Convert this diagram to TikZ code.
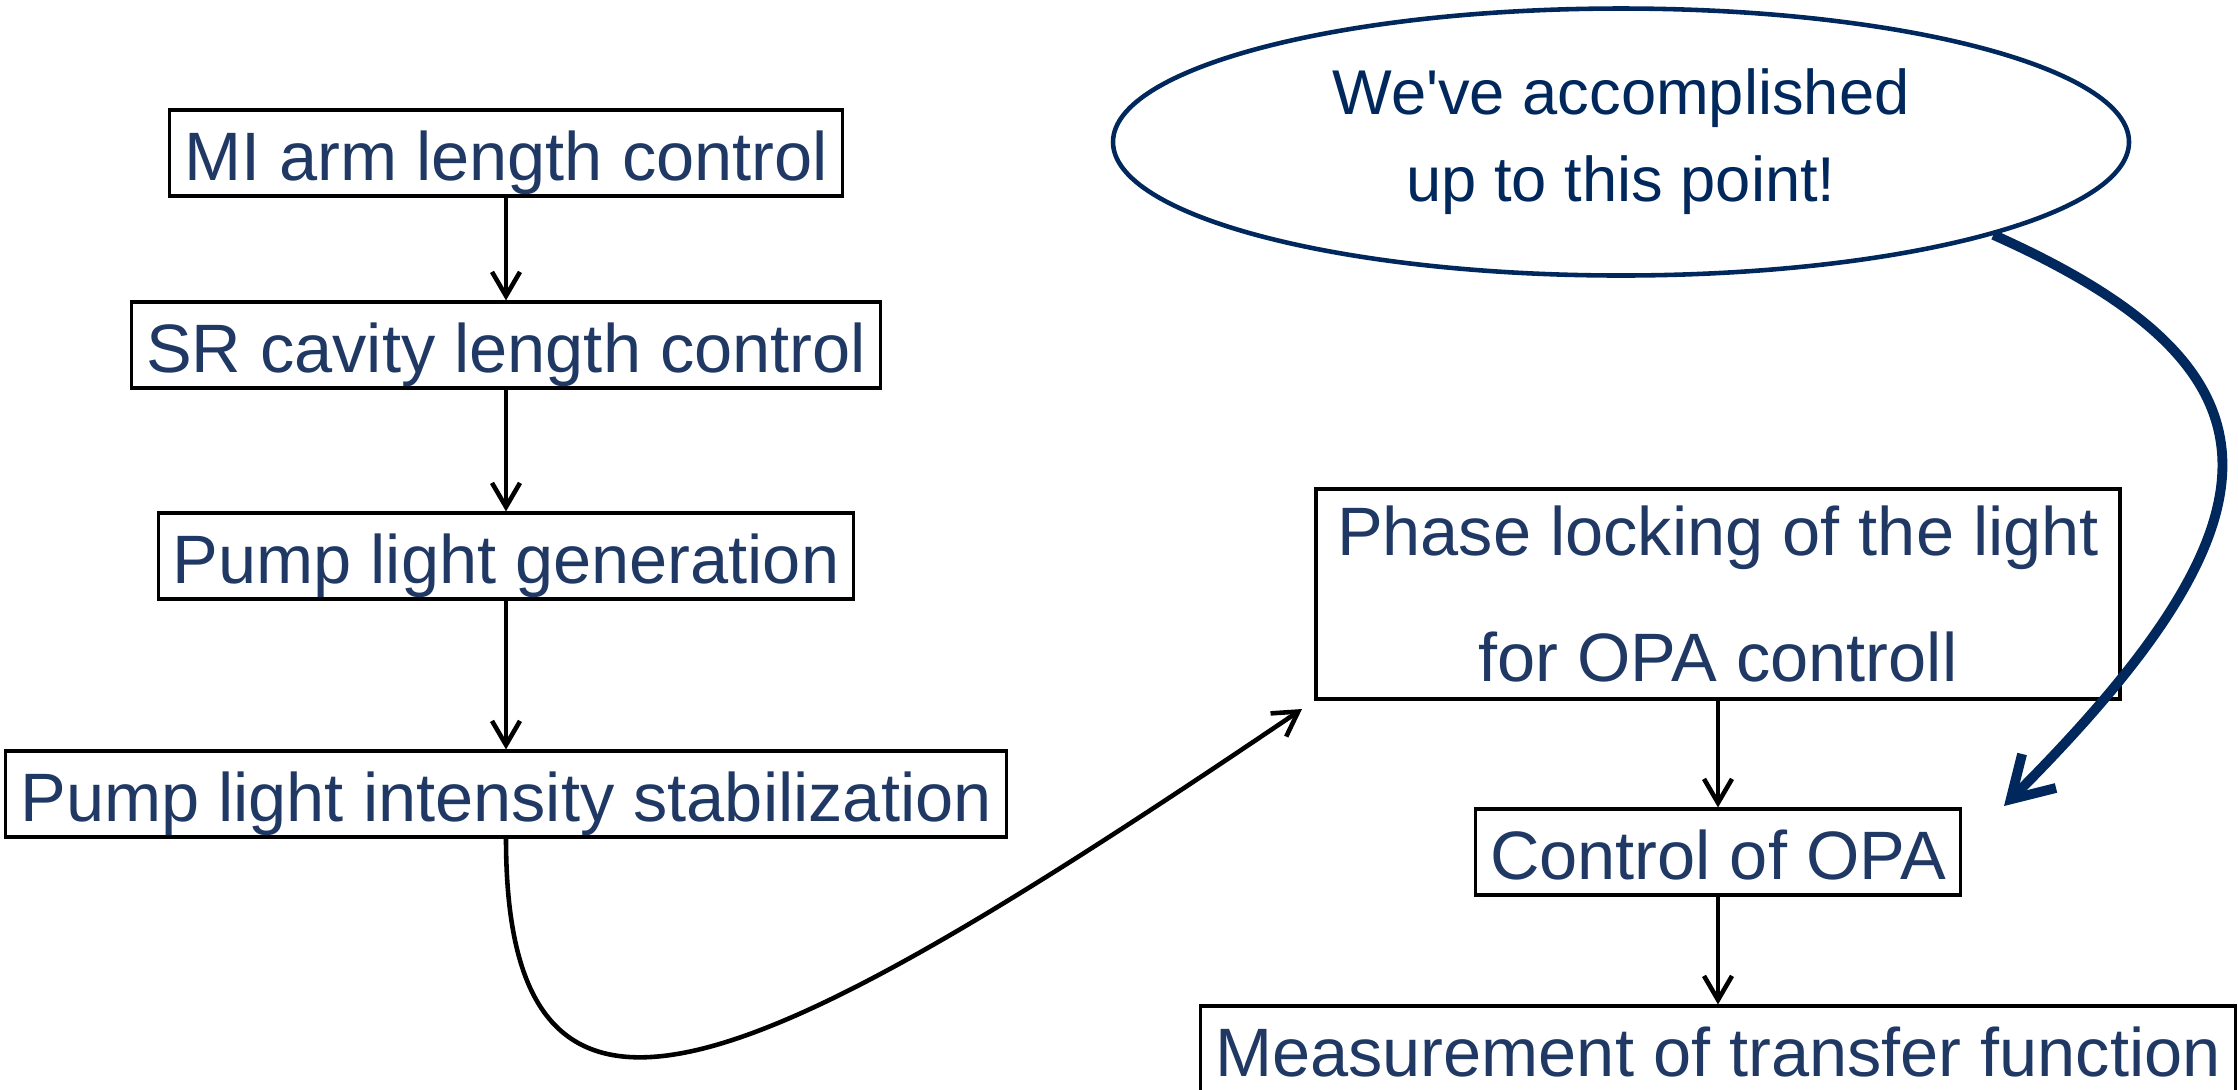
\documentclass[tikz,border=0pt]{standalone}
\usepackage{fontspec}
\setmainfont{Liberation Sans}[Ligatures=TeXOff]
\usetikzlibrary{shapes.geometric,arrows.meta}
\definecolor{textblue}{RGB}{32,56,100}
\definecolor{navy}{RGB}{0,40,92}

\begin{document}
\begin{tikzpicture}[x=0.1mm,y=-0.1mm,>={Straight Barb[length=2.4mm,width=2.8mm]}]
        \tikzstyle{stagebox}=[draw=black,line width=0.9pt,text=textblue,font={\fontsize{19.5}{23.4}\selectfont},inner xsep=0.145cm,inner ysep=0.02cm,text height=0.68cm,text depth=0.14cm]
        \tikzstyle{flow}=[->,black,line width=1.3pt]
        \useasboundingbox (0,0) rectangle (2238,1089);

        % left column
        \node[stagebox] (mi) at (506,153) {MI arm length control};
        \node[stagebox] (sr) at (506,345) {SR cavity length control};
        \node[stagebox] (gen) at (506,556) {Pump light generation};
        \node[stagebox] (stab) at (506,794) {Pump light intensity stabilization};

        % right column
        \node[draw=black,line width=0.9pt,text=textblue,align=center,font={\fontsize{19.5}{35.6}\selectfont},minimum width=8.04cm,minimum height=2.1cm] (phase) at (1718,594) {Phase locking of the light\\for OPA controll};
        \node[stagebox] (opa) at (1718,852) {Control of OPA};
        \node[stagebox] (meas) at (1718,1049) {Measurement of transfer function};

        %\node at (1621,142) {};
        \node[ellipse,draw=navy,line width=1.3pt,text=navy,align=center,font={\fontsize{18}{24.7}\selectfont},minimum width=10.16cm,minimum height=2.67cm,inner sep=0pt] (bubble) at (1621,142) {We've accomplished\\up to this point!};

        \coordinate (phasein) at (1302,709);
        \coordinate (opatip) at (2004,806);

        \draw[flow] (mi) -- (sr);
        \draw[flow] (sr) -- (gen);
        \draw[flow] (gen) -- (stab);
        \draw[flow] (phase) -- (opa);
        \draw[flow] (opa) -- (meas);

        \draw[flow] (stab.south) .. controls +(0,371) and +(-533,360) .. (phasein);
        \draw[navy,line width=2.8pt,-{Straight Barb[length=4mm,width=4.8mm]}] (bubble.-14.4) .. controls +(300,134) and +(293,-293) .. (opatip);
    \end{tikzpicture}
\end{document}
